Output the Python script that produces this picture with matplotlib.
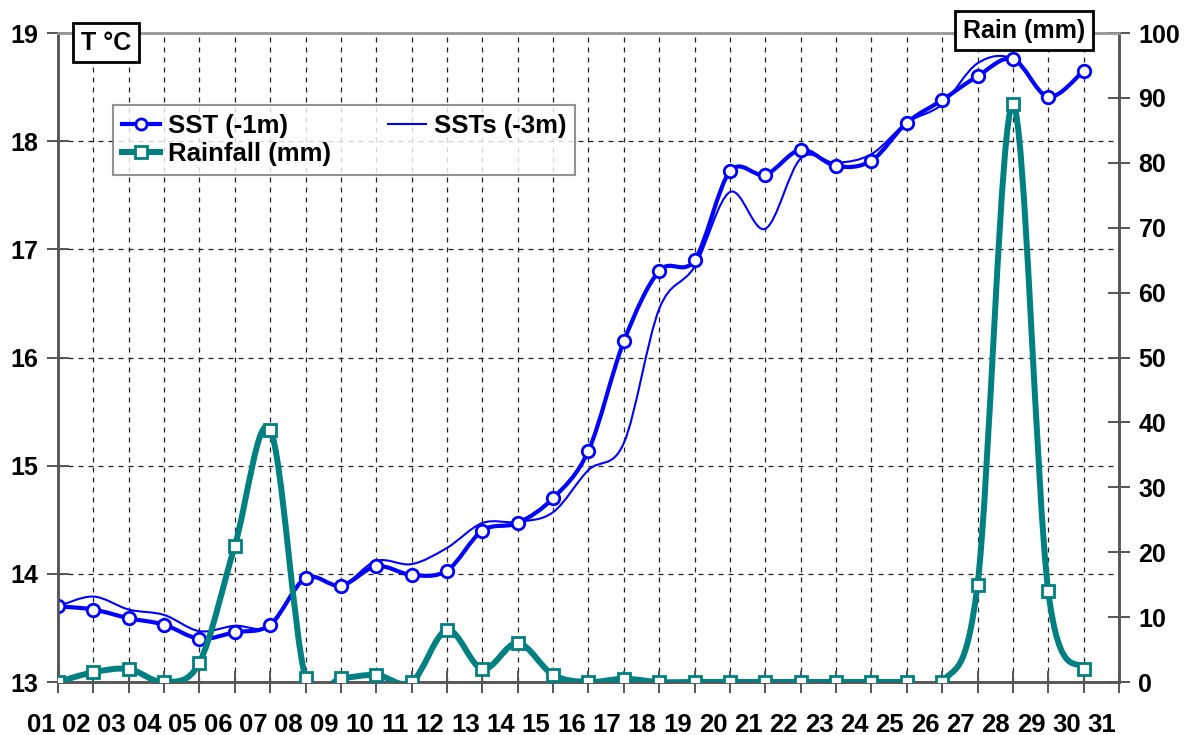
import matplotlib
matplotlib.use("Agg")
import matplotlib.pyplot as plt
import matplotlib.transforms as mtransforms
from matplotlib.path import Path
from matplotlib.patches import PathPatch
from matplotlib.lines import Line2D
import numpy as np

plt.rcParams['font.family'] = ['Liberation Sans', 'DejaVu Sans']
plt.rcParams['font.weight'] = 'bold'

# days of the month (labels) and data
day_labels = ['%02d' % d for d in range(1, 32)]
days = np.arange(30)

sst_1m = [13.70, 13.67, 13.59, 13.53, 13.40, 13.46, 13.53, 13.96, 13.89, 14.07,
          13.99, 14.03, 14.40, 14.47, 14.70, 15.14, 16.15, 16.80, 16.90, 17.72,
          17.69, 17.92, 17.77, 17.82, 18.17, 18.38, 18.60, 18.76, 18.41, 18.65]
sst_3m = [13.70, 13.79, 13.67, 13.62, 13.47, 13.52, 13.52, 13.96, 13.89, 14.12,
          14.09, 14.24, 14.47, 14.48, 14.57, 14.96, 15.21, 16.45, 16.84, 17.53,
          17.19, 17.84, 17.80, 17.88, 18.17, 18.34, 18.72, 18.76, 18.41, 18.65]
rainfall = [0.0, 1.5, 2.0, 0.0, 3.0, 21.0, 38.9, 0.6, 0.6, 1.1,
            0.0, 8.0, 2.0, 6.0, 1.1, 0.0, 0.5, 0.0, 0.0, 0.0,
            0.0, 0.0, 0.0, 0.0, 0.0, 0.0, 15.0, 89.0, 14.0, 2.0]

BLUE = '#0000ff'
TEAL = '#008080'
GRAY = '#555555'


def smooth_path(xs, ys):
    # Catmull-Rom style smoothing drawn as cubic bezier segments
    p = np.column_stack([xs, ys]).astype(float)
    n = len(p)
    verts = [p[0]]
    codes = [Path.MOVETO]
    for i in range(n - 1):
        p0 = p[i - 1] if i > 0 else p[i]
        p3 = p[i + 2] if i + 2 < n else p[i + 1]
        c1 = p[i] + (p[i + 1] - p0) / 6.0
        c2 = p[i + 1] - (p3 - p[i]) / 6.0
        verts += [c1, c2, p[i + 1]]
        codes += [Path.CURVE4] * 3
    return Path(verts, codes)


fig = plt.figure(figsize=(11.86, 7.35), dpi=100)
ax = fig.add_axes([0.0489, 0.0721, 0.8946, 0.8830])
ax2 = ax.twinx()

# temperature lines
ax.add_patch(PathPatch(smooth_path(days, sst_3m), facecolor='none',
                       edgecolor=BLUE, lw=1.5, zorder=3))
ax.add_patch(PathPatch(smooth_path(days, sst_1m), facecolor='none',
                       edgecolor=BLUE, lw=3, joinstyle='round', zorder=4))
ax.plot(days, sst_1m, 'o', ms=9, mfc='white', mec=BLUE, mew=2, zorder=5)

# rainfall
ax2.add_patch(PathPatch(smooth_path(days, rainfall), facecolor='none',
                        edgecolor=TEAL, lw=4.3, joinstyle='round', zorder=3))
ax2.plot(days, rainfall, 's', ms=9, mfc='white', mec=TEAL, mew=2, zorder=5)

ax.set_xlim(0, 30)
ax.set_ylim(13, 19)
ax2.set_ylim(0, 100)
ax.set_yticks(np.arange(13, 20))
ax2.set_yticks(np.arange(0, 101, 10))
ax.set_xticks(np.arange(31))
ax.set_xticklabels(day_labels)

ax.grid(True, color='#222222', linestyle=(0, (4, 4)), linewidth=0.9)
ax.set_axisbelow(True)

for a in (ax, ax2):
    a.tick_params(axis='both', direction='inout', length=16, width=1.4,
                  color=GRAY, labelsize=18)
    for s in a.spines.values():
        s.set_color(GRAY)
        s.set_linewidth(1.8)
    a.spines['top'].set_color('#999999')
ax.tick_params(axis='y', pad=6)
ax2.tick_params(axis='y', pad=6)
ax.tick_params(axis='x', pad=14, labelsize=18.5)

offset = mtransforms.ScaledTranslation(-0.17, 0, fig.dpi_scale_trans)
for lbl in ax.get_xticklabels():
    lbl.set_transform(lbl.get_transform() + offset)

handles = [
    Line2D([], [], color=BLUE, lw=3, marker='o', ms=8, mfc='white', mec=BLUE, mew=2),
    Line2D([], [], color=TEAL, lw=4.3, marker='s', ms=8, mfc='white', mec=TEAL, mew=2),
    Line2D([], [], color=BLUE, lw=1.5),
]
labels = ['SST (-1m)', 'Rainfall (mm)', 'SSTs (-3m)']
leg = ax2.legend(handles, labels, loc='upper left', bbox_to_anchor=(0.0518, 0.889),
                 borderaxespad=0, ncol=2, fontsize=18.5, frameon=True, fancybox=False,
                 handlelength=1.5, handletextpad=0.3, columnspacing=2.2,
                 labelspacing=0.15, borderpad=0.35)
leg.get_frame().set_edgecolor('#777777')
leg.get_frame().set_linewidth(1.5)

box = dict(boxstyle='square,pad=0.3', facecolor='white', edgecolor='black', linewidth=2)
fig.text(0.0894, 0.942, 'T °C', fontsize=18, ha='center', va='center', bbox=box)
fig.text(0.8634, 0.958, 'Rain (mm)', fontsize=18, ha='center', va='center', bbox=box)

fig.savefig('out.png', dpi=100)
